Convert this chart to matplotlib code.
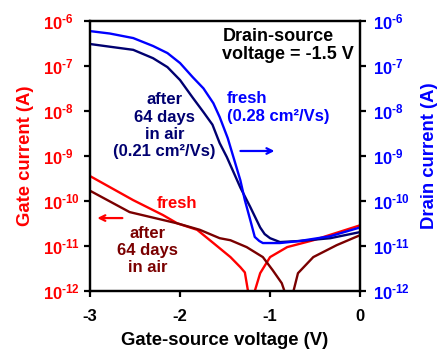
import matplotlib
matplotlib.use("Agg")
import matplotlib.pyplot as plt

plt.rcParams['font.family'] = ['Liberation Sans', 'DejaVu Sans']
plt.rcParams['font.weight'] = 'bold'
plt.rcParams['mathtext.fontset'] = 'custom'
plt.rcParams['mathtext.rm'] = 'Liberation Sans:bold'
plt.rcParams['mathtext.bf'] = 'Liberation Sans:bold'
plt.rcParams['mathtext.default'] = 'bf'

# drain current, fresh device
vg_fresh_d = [-3.0, -2.78, -2.52, -2.3, -2.14, -2.0, -1.86, -1.74, -1.63, -1.56, -1.47,
              -1.33, -1.28, -1.22, -1.17, -1.12, -1.08, -0.89, -0.67, -0.33, 0.0]
id_fresh = [6.0e-7, 5.3e-7, 4.2e-7, 2.8e-7, 1.95e-7, 1.17e-7, 5.7e-8, 3.2e-8, 1.5e-8,
            7.4e-9, 2.5e-9, 2.9e-10, 1.05e-10, 3.8e-11, 1.6e-11, 1.3e-11, 1.17e-11,
            1.17e-11, 1.3e-11, 1.66e-11, 2.6e-11]

# drain current, after 64 days in air
vg_aged_d = [-3.0, -2.78, -2.52, -2.3, -2.14, -2.0, -1.86, -1.74, -1.64, -1.56, -1.48,
             -1.33, -1.22, -1.11, -1.06, -1.0, -0.89, -0.67, -0.33, 0.0]
id_aged = [3.1e-7, 2.7e-7, 2.3e-7, 1.5e-7, 9.5e-8, 4.9e-8, 2.0e-8, 9.5e-9, 5.0e-9,
           1.95e-9, 9.5e-10, 2.0e-10, 7.4e-11, 2.6e-11, 1.85e-11, 1.5e-11, 1.23e-11,
           1.3e-11, 1.5e-11, 2.05e-11]

# gate current, fresh device
vg_fresh_g = [-3.0, -2.52, -2.19, -2.03, -1.81, -1.63, -1.44, -1.33, -1.28, -1.245,
              -1.21, -1.17, -1.11, -1.0, -0.81, -0.52, 0.0]
ig_fresh = [3.6e-10, 1.05e-10, 4.9e-11, 3.2e-11, 2.3e-11, 1.17e-11, 5.7e-12, 3.4e-12,
            2.6e-12, 1.0e-12, 1e-14, 1.0e-12, 2.5e-12, 5.7e-12, 9.5e-12, 1.35e-11, 2.9e-11]

# gate current, after 64 days in air
vg_aged_g = [-3.0, -2.56, -2.03, -1.78, -1.56, -1.44, -1.26, -1.08, -0.97, -0.87,
             -0.84, -0.79, -0.74, -0.69, -0.52, -0.26, 0.0]
ig_aged = [1.7e-10, 5.7e-11, 3.2e-11, 2.3e-11, 1.5e-11, 1.35e-11, 9.5e-12, 5.7e-12,
           2.9e-12, 1.5e-12, 1.0e-12, 1e-14, 1.0e-12, 2.5e-12, 5.7e-12, 1.05e-11, 1.75e-11]

x_ticks = [-3, -2, -1, 0]
y_ticks = [1e-12, 1e-11, 1e-10, 1e-9, 1e-8, 1e-7, 1e-6]
y_labels = [r'$10^{\text{-12}}$', r'$10^{\text{-11}}$', r'$10^{\text{-10}}$', r'$10^{\text{-9}}$',
            r'$10^{\text{-8}}$', r'$10^{\text{-7}}$', r'$10^{\text{-6}}$']

red = '#ff0000'
maroon = '#7a0000'
blue = '#0000ff'
navy = '#000070'

fig = plt.figure(figsize=(4.37, 3.52), dpi=100)
ax = fig.add_axes([0.206, 0.173, 0.618, 0.767])
ax2 = ax.twinx()

ax.plot(vg_fresh_g, ig_fresh, color=red, lw=1.7)
ax.plot(vg_aged_g, ig_aged, color=maroon, lw=1.7)
ax2.plot(vg_aged_d, id_aged, color=navy, lw=1.7)
ax2.plot(vg_fresh_d, id_fresh, color=blue, lw=1.7)

for a in (ax, ax2):
    a.set_yscale('log')
    a.set_ylim(1e-12, 1e-6)
    a.set_xlim(-3, 0)
    a.set_yticks(y_ticks)
    a.set_yticklabels(y_labels)
    a.minorticks_off()
    for s in a.spines.values():
        s.set_linewidth(1.6)

ax.set_xticks(x_ticks)
ax.set_xticklabels([str(t) for t in x_ticks], fontsize=12, fontweight='bold')
ax.tick_params(axis='x', direction='out', length=4, width=1.6, pad=9)
ax.tick_params(axis='y', direction='out', length=4, width=1.6, labelsize=12, labelcolor=red, pad=30)
for lab in ax.get_yticklabels():
    lab.set_horizontalalignment('left')
ax2.tick_params(axis='y', direction='out', length=4, width=1.6, labelsize=12, labelcolor=blue, pad=5)

ax.set_xlabel('Gate-source voltage (V)', fontsize=13.3, fontweight='bold', labelpad=6)
ax.set_ylabel('Gate current (A)', fontsize=13.3, fontweight='bold', color=red, labelpad=6)
ax2.set_ylabel('Drain current (A)', fontsize=13.3, fontweight='bold', color=blue, labelpad=8)

ax.text(-1.53, 7e-7, 'Drain-source\nvoltage = -1.5 V', fontsize=13, fontweight='bold',
        color='black', va='top', ha='left', linespacing=1.1)
ax.text(-2.17, 4.7e-9, 'after\n64 days\nin air\n(0.21 cm²/Vs)', fontsize=12,
        fontweight='bold', color=navy, ha='center', va='center', linespacing=1.2)
ax.text(-1.48, 1.2e-8, 'fresh\n(0.28 cm²/Vs)', fontsize=12, fontweight='bold',
        color=blue, ha='left', va='center', linespacing=1.2)
ax.text(-2.03, 9e-11, 'fresh', fontsize=12, fontweight='bold', color=red,
        ha='center', va='center')
ax.text(-2.36, 8e-12, 'after\n64 days\nin air', fontsize=12, fontweight='bold',
        color=maroon, ha='center', va='center', linespacing=1.2)

ax.annotate('', xy=(-0.92, 1.3e-9), xytext=(-1.36, 1.3e-9),
            arrowprops=dict(arrowstyle='->', color=blue, lw=1.6))
ax.annotate('', xy=(-2.95, 4.2e-11), xytext=(-2.61, 4.2e-11),
            arrowprops=dict(arrowstyle='->', color=red, lw=1.6))

fig.savefig('out.png', dpi=100)
